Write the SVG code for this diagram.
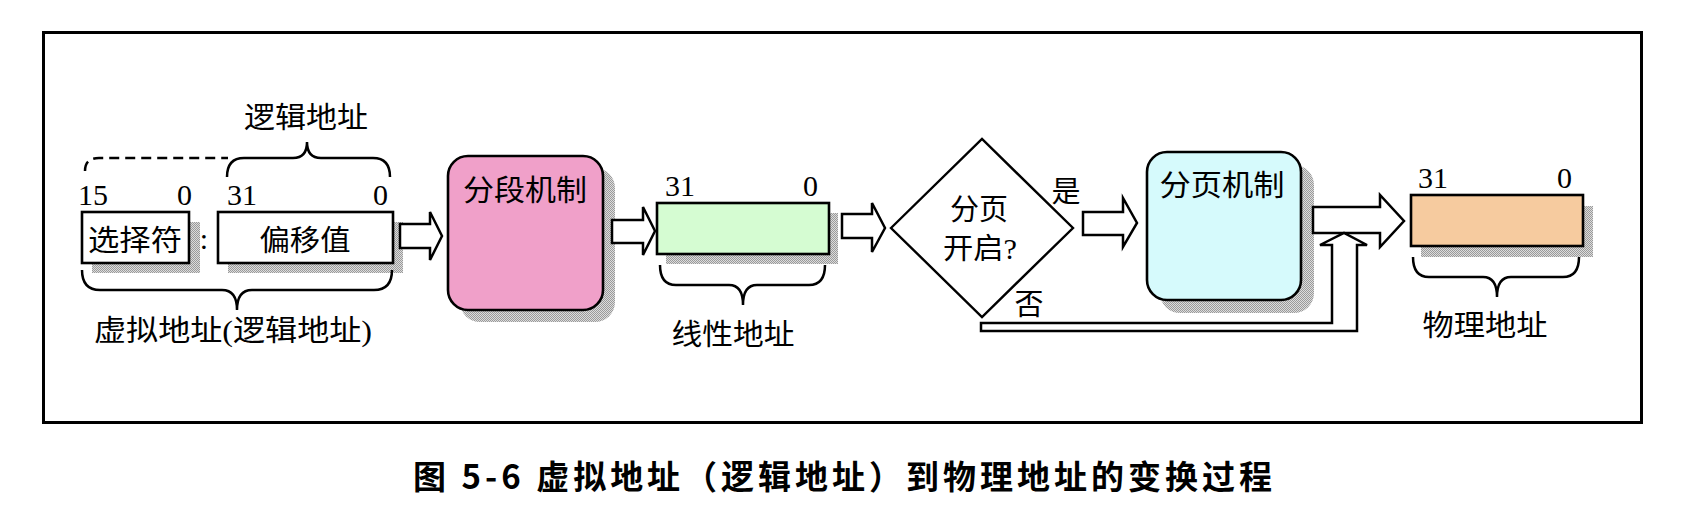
<svg xmlns="http://www.w3.org/2000/svg" width="1694" height="532" viewBox="0 0 1694 532">
<defs>
<pattern id="dither" width="2" height="2" patternUnits="userSpaceOnUse">
<rect width="2" height="2" fill="#dcdcdc"/>
<rect width="1" height="1" fill="#9a9a9a"/>
<rect x="1" y="1" width="1" height="1" fill="#9a9a9a"/>
</pattern>
</defs>
<style>
.bx{stroke:#000;stroke-width:2.6}
.sh{fill:url(#dither)}
.cn{font-family:"Liberation Serif","Noto Sans CJK SC",serif;font-size:29px;fill:#000}
.num{font-family:"Liberation Serif",serif;font-size:30px;fill:#000}
.arr{fill:#fff;stroke:#000;stroke-width:2.5;stroke-linejoin:miter}
.brace{fill:none;stroke:#000;stroke-width:2.5}
.cap{font-family:"Noto Sans CJK SC",sans-serif;font-weight:bold;font-size:33px;fill:#000}
</style>
<rect width="1694" height="532" fill="#fff"/>
<rect id="frame" x="43.5" y="32.5" width="1598" height="390" fill="none" stroke="#000" stroke-width="3"/>

<g id="selector">
<rect class="sh" x="92" y="222" width="108" height="51"/>
<rect class="bx" x="82" y="212" width="107" height="51" fill="#fff"/>
<text class="cn" x="135" y="251" text-anchor="middle" font-size="31" textLength="94" lengthAdjust="spacingAndGlyphs">选择符</text>
<text class="num" x="78" y="205">15</text>
<text class="num" x="177" y="205">0</text>
</g>
<text id="colon" class="num" x="204" y="249" text-anchor="middle" font-size="33">:</text>
<g id="offset">
<rect class="sh" x="228" y="222" width="175" height="51"/>
<rect class="bx" x="218" y="212" width="175" height="51" fill="#fff"/>
<text class="cn" x="305" y="251" text-anchor="middle" font-size="31" textLength="91" lengthAdjust="spacingAndGlyphs">偏移值</text>
<text class="num" x="227" y="205">31</text>
<text class="num" x="373" y="205">0</text>
</g>
<g id="logical-label">
<text class="cn" x="306" y="128" text-anchor="middle" textLength="124" lengthAdjust="spacingAndGlyphs">逻辑地址</text>
</g>
<g id="virtual-label">
<text class="cn" x="233" y="341" text-anchor="middle" textLength="278" lengthAdjust="spacingAndGlyphs">虚拟地址(逻辑地址)</text>
</g>

<g id="segmentation">
<rect class="sh" x="460" y="168" width="155" height="154" rx="20"/>
<rect class="bx" x="448" y="156" width="155" height="154" rx="20" fill="#f0a0c9"/>
<text class="cn" x="525" y="201" text-anchor="middle" textLength="124" lengthAdjust="spacingAndGlyphs">分段机制</text>
</g>

<g id="linear">
<rect class="sh" x="666" y="213" width="172" height="51"/>
<rect class="bx" x="657" y="203" width="172" height="51" fill="#d5fcd2"/>
<text class="num" x="665" y="196">31</text>
<text class="num" x="803" y="196">0</text>
<text class="cn" x="733" y="345" text-anchor="middle" textLength="123" lengthAdjust="spacingAndGlyphs">线性地址</text>
</g>

<g id="decision">
<polygon points="891,228 982,139 1073,228 982,317" fill="#fff" stroke="#000" stroke-width="2.4"/>
<text class="cn" x="979" y="220" text-anchor="middle" textLength="58" lengthAdjust="spacingAndGlyphs">分页</text>
<text class="cn" x="980" y="259" text-anchor="middle" textLength="74" lengthAdjust="spacingAndGlyphs">开启?</text>
</g>

<g id="paging">
<rect class="sh" x="1160" y="165" width="154" height="148" rx="20"/>
<rect class="bx" x="1147" y="152" width="154" height="148" rx="20" fill="#d6fafc"/>
<text class="cn" x="1222" y="196" text-anchor="middle" textLength="125" lengthAdjust="spacingAndGlyphs">分页机制</text>
</g>

<g id="physical">
<rect class="sh" x="1421" y="206" width="172" height="51"/>
<rect class="bx" x="1411" y="195" width="172" height="51" fill="#f6cb9f"/>
<text class="num" x="1418" y="188">31</text>
<text class="num" x="1557" y="188">0</text>
<text class="cn" x="1485" y="336" text-anchor="middle" textLength="125" lengthAdjust="spacingAndGlyphs">物理地址</text>
</g>

<g id="connectors">
<path class="brace" d="M85,171 Q85,158 99,158 L228,158" stroke-dasharray="10,6"/>
<path class="brace" d="M227,177 Q227,158 244,158 L293,158 Q307,158 307,142 Q307,158 321,158 L373,158 Q390,158 390,177"/>
<path class="brace" d="M82,270 Q82,290 100,290 L222,290 Q237,290 237,310 Q237,290 252,290 L374,290 Q392,290 392,270"/>
<path class="brace" d="M660,265 Q660,285 676,285 L729,285 Q743,285 743,305 Q743,285 757,285 L809,285 Q825,285 825,265"/>
<path class="brace" d="M1413,257 Q1413,277 1429,277 L1483,277 Q1497,277 1497,297 Q1497,277 1511,277 L1563,277 Q1579,277 1579,257"/>
<polygon class="arr" points="400,224 430,224 430,212 442,236 430,260 430,248 400,248"/>
<polygon class="arr" points="612,220 643,220 643,207 655,231 643,255 643,243 612,243"/>
<polygon class="arr" points="842,214 872,214 872,203 885,228 872,252 872,238 842,238"/>
<polygon class="arr" points="1083,212 1123,212 1123,198 1137,223 1123,247 1123,235 1083,235"/>
<polygon class="arr" points="1313,207 1380,207 1380,195 1404,221 1380,247 1380,233 1313,233"/>
<polygon class="arr" points="981,323 1332,323 1332,245 1320,245 1344,233 1367,245 1357,245 1357,331 981,331"/>
<text class="cn" x="1066" y="202" text-anchor="middle">是</text>
<text class="cn" x="1029" y="315" text-anchor="middle">否</text>
</g>

<text id="caption" class="cap" x="413" y="489" textLength="859" lengthAdjust="spacing">图 5-6 虚拟地址（逻辑地址）到物理地址的变换过程</text>
</svg>
